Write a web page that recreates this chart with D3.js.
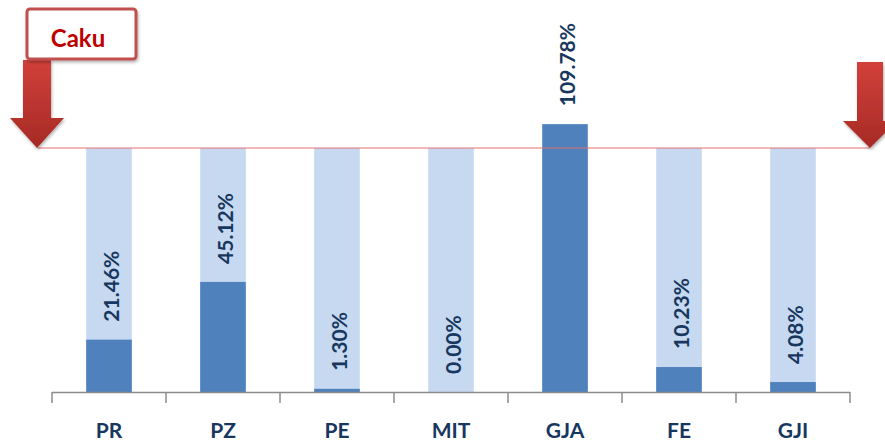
<!DOCTYPE html>
<html>
<head>
<meta charset="utf-8">
<script src="https://cdn.jsdelivr.net/npm/d3@7"></script>
<style>
  body { margin: 0; background: #fff; }
  svg { display: block; font-family: Lato, "Open Sans", sans-serif; }
</style>
</head>
<body>
<div id="chart"></div>
<script>
// data
const categories = ["PR", "PZ", "PE", "MIT", "GJA", "FE", "GJI"];
const actual = [0.2146, 0.4512, 0.013, 0.0, 1.0978, 0.1023, 0.0408];
const target = [1, 1, 1, 1, 1, 1, 1];
const targetLabel = "Caku";

const W = 885, H = 445;
const svg = d3.select("#chart").append("svg")
    .attr("width", W)
    .attr("height", H);

const x = d3.scaleBand()
    .domain(categories)
    .range([52, 850])
    .paddingInner(0.6)
    .paddingOuter(0.3);

const y = d3.scaleLinear()
    .domain([0, 1])
    .range([392, 148]);

const step = x.step();

// gradient + shadow for arrows
const defs = svg.append("defs");
const grad = defs.append("linearGradient")
    .attr("id", "arrowGrad")
    .attr("x1", 0).attr("y1", 0).attr("x2", 0).attr("y2", 1);
grad.append("stop").attr("offset", "0%").attr("stop-color", "#D2403A");
grad.append("stop").attr("offset", "100%").attr("stop-color", "#A62A26");
const flt = defs.append("filter").attr("id", "shadow")
    .attr("x", "-30%").attr("y", "-30%").attr("width", "160%").attr("height", "160%");
flt.append("feDropShadow")
    .attr("dx", 1).attr("dy", 2).attr("stdDeviation", 1.5)
    .attr("flood-color", "#000").attr("flood-opacity", 0.3);

// target bars (light)
svg.selectAll(".target")
    .data(categories)
    .enter().append("rect")
    .attr("class", "target")
    .attr("x", d => x(d))
    .attr("width", x.bandwidth())
    .attr("y", (d, i) => y(target[i]))
    .attr("height", (d, i) => y(0) - y(target[i]))
    .attr("fill", "#C6D9F1");

// actual bars (dark)
svg.selectAll(".actual")
    .data(categories)
    .enter().append("rect")
    .attr("class", "actual")
    .attr("x", d => x(d))
    .attr("width", x.bandwidth())
    .attr("y", (d, i) => y(actual[i]))
    .attr("height", (d, i) => y(0) - y(actual[i]))
    .attr("fill", "#4F81BD");

// target line
svg.append("line")
    .attr("x1", 38).attr("x2", 870)
    .attr("y1", y(1)).attr("y2", y(1))
    .attr("stroke", "#E07070")
    .attr("stroke-width", 1);

// value labels
svg.selectAll(".val")
    .data(categories)
    .enter().append("text")
    .attr("class", "val")
    .attr("transform", (d, i) => `translate(${x(d) + x.bandwidth() / 2 + 1},${y(actual[i]) - 18}) rotate(-90)`)
    .attr("dominant-baseline", "central")
    .attr("text-anchor", "start")
    .attr("fill", "#17375E")
    .style("font-size", "21px")
    .style("font-weight", "bold")
    .text((d, i) => (actual[i] * 100).toFixed(2) + "%");

// axis
svg.append("line")
    .attr("x1", 52).attr("x2", 850)
    .attr("y1", y(0) + 0.5).attr("y2", y(0) + 0.5)
    .attr("stroke", "#8C8C8C")
    .attr("stroke-width", 1.5);

const ticks = [x(categories[0]) + x.bandwidth() / 2 - step / 2]
    .concat(categories.map(d => x(d) + x.bandwidth() / 2 + step / 2));
svg.selectAll(".tick")
    .data(ticks)
    .enter().append("line")
    .attr("x1", d => d).attr("x2", d => d)
    .attr("y1", y(0)).attr("y2", y(0) + 11)
    .attr("stroke", "#8C8C8C")
    .attr("stroke-width", 1.5);

svg.selectAll(".cat")
    .data(categories)
    .enter().append("text")
    .attr("class", "cat")
    .attr("x", d => x(d) + x.bandwidth() / 2)
    .attr("y", 438)
    .attr("text-anchor", "middle")
    .attr("fill", "#17375E")
    .style("font-size", "21px")
    .style("font-weight", "bold")
    .text(d => d);

// arrows
function arrow(cx, top, headTop, tip, shaftW, headW) {
  return `M${cx - shaftW / 2},${top} L${cx + shaftW / 2},${top} L${cx + shaftW / 2},${headTop}
    L${cx + headW / 2},${headTop} L${cx},${tip} L${cx - headW / 2},${headTop} L${cx - shaftW / 2},${headTop} Z`;
}
svg.append("path")
    .attr("d", arrow(37, 60, 118, y(1), 28, 54))
    .attr("fill", "url(#arrowGrad)")
    .attr("filter", "url(#shadow)");
svg.append("path")
    .attr("d", arrow(870, 62, 121, y(1), 26, 54))
    .attr("fill", "url(#arrowGrad)")
    .attr("filter", "url(#shadow)");

// label box
svg.append("rect")
    .attr("x", 27).attr("y", 9)
    .attr("width", 109).attr("height", 50)
    .attr("rx", 3)
    .attr("fill", "#fff")
    .attr("stroke", "#C0504D")
    .attr("stroke-width", 3)
    .attr("filter", "url(#shadow)");
svg.append("text")
    .attr("x", 78).attr("y", 47)
    .attr("text-anchor", "middle")
    .attr("fill", "#C00000")
    .style("font-size", "24px")
    .style("font-weight", "bold")
    .text(targetLabel);
</script>
</body>
</html>
